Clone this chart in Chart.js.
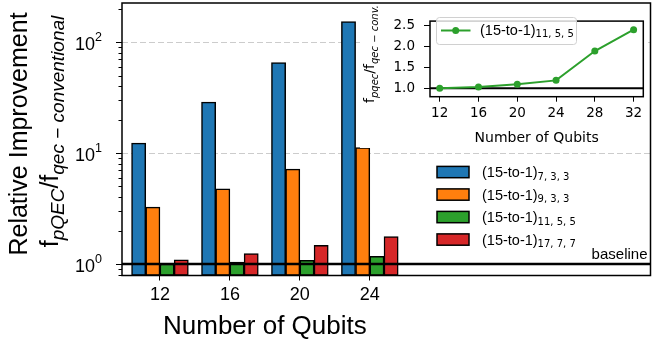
<!DOCTYPE html>
<html>
<head>
<meta charset="utf-8">
<script src="https://cdn.jsdelivr.net/npm/chart.js@4.4.1/dist/chart.umd.min.js"></script>
<style>
  html, body { margin: 0; padding: 0; background: #fff; }
  #wrap { position: relative; width: 668px; height: 343px; }
  #main { position: absolute; left: 0; top: 0; }
  #inset { position: absolute; left: 360px; top: 4px; background: #fff; }
</style>
</head>
<body>
<div id="wrap">
  <canvas id="main" width="668" height="343"></canvas>
  <canvas id="inset" width="288" height="144"></canvas>
</div>
<script>
"use strict";
// main bar chart data (relative improvement, log scale)
const QUBITS = [12, 16, 20, 24];
const SERIES_NAME = "(15-to-1)";
const SERIES_SUB = ["7, 3, 3", "9, 3, 3", "11, 5, 5", "17, 7, 7"];
const COLORS = ["#1f77b4", "#ff7f0e", "#2ca02c", "#d62728"];
const IMP_7_3_3 = [12.3, 28.8, 65.5, 154];
const IMP_9_3_3 = [3.26, 4.75, 7.16, 11.2];
const IMP_11_5_5 = [1.0, 1.04, 1.08, 1.17];
const IMP_17_7_7 = [1.09, 1.24, 1.47, 1.77];
const Y_MAJOR = [1, 10, 100];
const BASELINE = 1;

// inset line chart data
const INSET_QUBITS = [12, 16, 20, 24, 28, 32];
const INSET_11_5_5 = [1.0, 1.03, 1.10, 1.19, 1.89, 2.40];
const INSET_TICKS = [1.0, 1.5, 2.0, 2.5];

const SANS = '"Liberation Sans", Arial, sans-serif';
const DEJ = '"DejaVu Sans", sans-serif';
Chart.defaults.color = "#000";

// draw a run of text pieces (for subscripts / superscripts)
function rich(ctx, parts, x, y, align) {
  let total = 0;
  parts.forEach((p) => { ctx.font = p.font; p.w = ctx.measureText(p.t).width; total += p.w; });
  let cx = align === "center" ? x - total / 2 : align === "right" ? x - total : x;
  ctx.textAlign = "left"; ctx.textBaseline = "alphabetic";
  parts.forEach((p) => { ctx.font = p.font; ctx.fillText(p.t, cx, y + (p.dy || 0)); cx += p.w; });
}

const mainDecor = {
  id: "mainDecor",
  beforeDatasetsDraw(chart) {
    const { ctx, chartArea: a, scales: { y } } = chart;
    ctx.save();
    ctx.strokeStyle = "#cccccc"; ctx.lineWidth = 1; ctx.setLineDash([6, 3]);
    Y_MAJOR.filter((v) => v !== BASELINE).forEach((v) => {
      const py = Math.round(y.getPixelForValue(v)) + 0.5;
      ctx.beginPath(); ctx.moveTo(a.left, py); ctx.lineTo(a.right, py); ctx.stroke();
    });
    ctx.restore();
  },
  afterDatasetsDraw(chart) {
    const { ctx, chartArea: a, scales: { x, y } } = chart;
    ctx.save();
    // baseline
    const by = y.getPixelForValue(BASELINE);
    ctx.strokeStyle = "#000"; ctx.lineWidth = 2.5;
    ctx.beginPath(); ctx.moveTo(a.left, by); ctx.lineTo(a.right, by); ctx.stroke();
    ctx.fillStyle = "#000";
    ctx.font = "15px " + SANS; ctx.textAlign = "right"; ctx.textBaseline = "alphabetic";
    ctx.fillText("baseline", a.right - 3, by - 5);
    // frame
    ctx.lineWidth = 1.5;
    ctx.strokeRect(a.left, a.top, a.right - a.left, a.bottom - a.top);
    // log ticks
    ctx.lineWidth = 1;
    for (let d = 0.1; d <= 100; d *= 10) {
      for (let m = 1; m <= 9; m++) {
        const v = m * d;
        if (v < y.min || v > y.max) continue;
        const py = Math.round(y.getPixelForValue(v)) + 0.5;
        const len = m === 1 ? 6 : 3.5;
        ctx.beginPath(); ctx.moveTo(a.left - len, py); ctx.lineTo(a.left, py); ctx.stroke();
      }
    }
    Y_MAJOR.forEach((v) => {
      const py = y.getPixelForValue(v);
      rich(ctx, [{ t: "10", font: "18px " + SANS }, { t: String(Math.round(Math.log10(v))), font: "12.5px " + SANS, dy: -9 }], 102, py + 8, "right");
    });
    // axis titles
    ctx.font = "26px " + SANS; ctx.textAlign = "center"; ctx.textBaseline = "alphabetic";
    ctx.fillText("Number of Qubits", x.getPixelForValue((QUBITS[0] + QUBITS[QUBITS.length - 1]) / 2), 334);
    ctx.save();
    ctx.translate(26.7, 134); ctx.rotate(-Math.PI / 2);
    rich(ctx, [{ t: "Relative Improvement", font: "25px " + SANS }], 0, 0, "center");
    ctx.restore();
    ctx.save();
    ctx.translate(57.5, 131.5); ctx.rotate(-Math.PI / 2);
    rich(ctx, [
      { t: "f", font: "25px " + SANS },
      { t: "pQEC", font: "italic 19px " + SANS, dy: 6 },
      { t: "/f", font: "25px " + SANS },
      { t: "qec \u2212 conventional", font: "italic 19px " + SANS, dy: 6 },
    ], 0, 0, "center");
    ctx.restore();
    // legend
    chart.data.datasets.forEach((ds, i) => {
      const cy = 172 + i * 22.5;
      ctx.fillStyle = ds.backgroundColor;
      ctx.fillRect(437, cy - 5.6, 32, 11.3);
      ctx.strokeStyle = "#000"; ctx.lineWidth = 1.5;
      ctx.strokeRect(437, cy - 5.6, 32, 11.3);
      ctx.fillStyle = "#000";
      rich(ctx, [{ t: SERIES_NAME, font: "14.5px " + SANS }, { t: SERIES_SUB[i], font: "10px " + DEJ, dy: 2.7 }], 482, cy + 5, "left");
    });
    ctx.restore();
  },
};

const series = [IMP_7_3_3, IMP_9_3_3, IMP_11_5_5, IMP_17_7_7];
new Chart(document.getElementById("main"), {
  type: "bar",
  data: {
    datasets: series.map((vals, i) => ({
      label: SERIES_NAME + SERIES_SUB[i],
      data: QUBITS.map((q, k) => ({ x: q, y: vals[k] })),
      backgroundColor: COLORS[i], borderColor: "#000", borderWidth: 1.5,
      barThickness: 14.2, borderSkipped: false,
    })),
  },
  options: {
    responsive: false, animation: false, devicePixelRatio: 1,
    layout: { padding: { top: 3, right: 17.5, left: 0, bottom: 0 } },
    plugins: { legend: { display: false }, tooltip: { enabled: false } },
    scales: {
      x: {
        type: "linear", min: 9.83, max: 40.05, offset: false,
        afterBuildTicks: (s) => { s.ticks = QUBITS.map((v) => ({ value: v })); },
        afterFit: (s) => { s.height = 67.5; },
        ticks: { font: { family: SANS, size: 18 }, color: "#000", padding: 4, autoSkip: false, maxRotation: 0 },
        grid: { drawOnChartArea: false, tickLength: 5, color: "#000", offset: false },
        border: { display: false },
      },
      y: {
        type: "logarithmic", min: 0.787, max: 226,
        afterFit: (s) => { s.width = 122; },
        ticks: { display: false },
        grid: { display: false },
        border: { display: false },
      },
    },
  },
  plugins: [mainDecor],
});

const insetDecor = {
  id: "insetDecor",
  beforeDatasetsDraw(chart) {
    const { ctx, chartArea: a, scales: { y } } = chart;
    ctx.save();
    const by = y.getPixelForValue(BASELINE);
    ctx.strokeStyle = "#000"; ctx.lineWidth = 2;
    ctx.beginPath(); ctx.moveTo(a.left, by); ctx.lineTo(a.right, by); ctx.stroke();
    ctx.restore();
  },
  afterDatasetsDraw(chart) {
    const { ctx, chartArea: a } = chart;
    ctx.save();
    ctx.strokeStyle = "#000"; ctx.lineWidth = 1.5;
    ctx.strokeRect(a.left, a.top, a.right - a.left, a.bottom - a.top);
    // legend
    ctx.fillStyle = "rgba(255,255,255,0.8)"; ctx.strokeStyle = "#d0d0d0"; ctx.lineWidth = 1;
    ctx.beginPath(); ctx.roundRect(76.5, 13.5, 140, 27, 3); ctx.fill(); ctx.stroke();
    const ds = chart.data.datasets[0];
    ctx.strokeStyle = ds.borderColor; ctx.lineWidth = 2;
    ctx.beginPath(); ctx.moveTo(81, 26.5); ctx.lineTo(110.5, 26.5); ctx.stroke();
    ctx.fillStyle = ds.borderColor;
    ctx.beginPath(); ctx.arc(95.7, 26.5, 3.5, 0, Math.PI * 2); ctx.fill();
    ctx.fillStyle = "#000";
    rich(ctx, [{ t: SERIES_NAME, font: "14.5px " + SANS }, { t: SERIES_SUB[2], font: "10px " + DEJ, dy: 2.5 }], 120, 30.5, "left");
    // titles
    ctx.font = "14px " + DEJ; ctx.textAlign = "center"; ctx.textBaseline = "middle";
    ctx.fillText("Number of Qubits", (a.left + a.right) / 2, 134);
    ctx.save();
    ctx.translate(14, 50); ctx.rotate(-Math.PI / 2);
    rich(ctx, [
      { t: "f", font: "14px " + DEJ },
      { t: "pqec", font: "italic 10px " + DEJ, dy: 3.5 },
      { t: "/f", font: "14px " + DEJ },
      { t: "qec \u2212 conv.", font: "italic 10px " + DEJ, dy: 3.5 },
    ], 0, 0, "center");
    ctx.restore();
    ctx.restore();
  },
};

new Chart(document.getElementById("inset"), {
  type: "line",
  data: {
    datasets: [{
      label: SERIES_NAME + SERIES_SUB[2],
      data: INSET_QUBITS.map((q, k) => ({ x: q, y: INSET_11_5_5[k] })),
      borderColor: COLORS[2], backgroundColor: COLORS[2], borderWidth: 2,
      pointRadius: 3.5, pointBorderWidth: 0, pointBackgroundColor: COLORS[2], tension: 0,
    }],
  },
  options: {
    responsive: false, animation: false, devicePixelRatio: 1,
    layout: { padding: { top: 7.7, right: 4.7, left: 0, bottom: 0 } },
    plugins: { legend: { display: false }, tooltip: { enabled: false } },
    scales: {
      x: {
        type: "linear", min: 11, max: 33,
        afterBuildTicks: (s) => { s.ticks = INSET_QUBITS.map((v) => ({ value: v })); },
        afterFit: (s) => { s.height = 51.3; },
        ticks: { font: { family: DEJ, size: 13.5 }, color: "#000", padding: 4, autoSkip: false, maxRotation: 0 },
        grid: { drawOnChartArea: false, tickLength: 5, color: "#000" },
        border: { display: false },
      },
      y: {
        type: "linear", min: 0.8, max: 2.606,
        afterBuildTicks: (s) => { s.ticks = INSET_TICKS.map((v) => ({ value: v })); },
        afterFit: (s) => { s.width = 70; },
        ticks: { font: { family: DEJ, size: 13.5 }, color: "#000", padding: 9, callback: (v) => Number(v).toFixed(1) },
        grid: { drawOnChartArea: false, tickLength: 6, color: "#000" },
        border: { display: false },
      },
    },
  },
  plugins: [insetDecor],
});
</script>
</body>
</html>
